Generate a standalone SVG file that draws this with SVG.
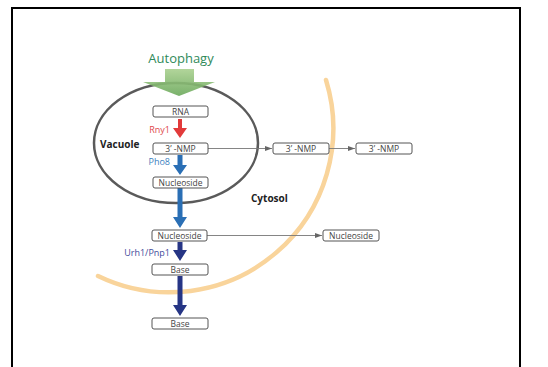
<svg xmlns="http://www.w3.org/2000/svg" width="548" height="367" viewBox="0 0 548 367">
<defs>
<linearGradient id="gAuto" x1="0" y1="0" x2="0" y2="1">
<stop offset="0" stop-color="#a9d08f"/>
<stop offset="1" stop-color="#6aa85a"/>
</linearGradient>
<marker id="ah" markerWidth="8" markerHeight="6" refX="7" refY="3" orient="auto" markerUnits="userSpaceOnUse">
<path d="M0,0.5 L7,3 L0,5.5 Z" fill="#666"/>
</marker>
<style>
.box{fill:#fff;stroke:#555;stroke-width:1}
.bt{font-family:"Open Sans","Liberation Sans",sans-serif;font-size:8.5px;fill:#444;text-anchor:middle}
.lbl{font-family:"Open Sans","Liberation Sans",sans-serif;font-size:9px;text-anchor:end}
.bold{font-family:"Open Sans","Liberation Sans",sans-serif;font-size:10px;font-weight:bold;fill:#222}
.conn{stroke:#777;stroke-width:0.9;fill:none}
</style>
</defs>
<rect x="0" y="0" width="548" height="367" fill="#fff"/>
<rect x="12" y="8" width="508" height="370" fill="none" stroke="#000" stroke-width="2"/>

<!-- cytosol boundary arc -->
<path id="cytosol-membrane" d="M326,80 A164,164 0 0 1 98,276" fill="none" stroke="#f9d49b" stroke-width="4.5" stroke-linecap="round"/>

<!-- vacuole -->
<ellipse id="vacuole-membrane" cx="176" cy="143" rx="82" ry="60" fill="none" stroke="#5a5a5a" stroke-width="2.5"/>

<!-- autophagy arrow -->
<g id="autophagy">
<text x="181" y="63" font-family="'Open Sans','Liberation Sans',sans-serif" font-size="13" fill="#2f8a5a" text-anchor="middle">Autophagy</text>
<path d="M165,69 H194 V82 H215 L179,96 L143,82 H165 Z" fill="url(#gAuto)" opacity="0.9"/>
</g>

<text class="bold" x="100" y="148">Vacuole</text>
<text class="bold" x="251" y="202">Cytosol</text>

<!-- connectors -->
<g id="connectors">
<path class="conn" d="M208,148.5 H272" marker-end="url(#ah)"/>
<path class="conn" d="M329,148.5 H355" marker-end="url(#ah)"/>
<path class="conn" d="M207,235.5 H322" marker-end="url(#ah)"/>
<path d="M178,119 H182 V128 H187 L180,138 L173,128 H178 Z" fill="#e23a3a"/>
<path d="M177.5,155 H182.5 V165 H187 L180,175 L173,165 H177.5 Z" fill="#2a6fb5"/>
<path d="M177.5,188 H182.5 V217 H187 L180,228 L173,217 H177.5 Z" fill="#2a6fb5"/>
<path d="M177.5,242 H182.5 V250 H187 L180,261 L173,250 H177.5 Z" fill="#263585"/>
<path d="M177.5,276 H182.5 V305 H187 L180,316 L173,305 H177.5 Z" fill="#263585"/>
<text class="lbl" x="170" y="133" fill="#e0474c">Rny1</text>
<text class="lbl" x="170" y="165" fill="#3d7fc0">Pho8</text>
<text class="lbl" x="170" y="256" fill="#3f4a9a">Urh1/Pnp1</text>
</g>

<g id="rna"><rect class="box" x="153" y="106" width="55" height="11" rx="2"/><text class="bt" x="180.5" y="114.8">RNA</text></g>
<g id="nmp-vac"><rect class="box" x="153" y="143" width="55" height="11" rx="2"/><text class="bt" x="180.5" y="151.8">3’ -NMP</text></g>
<g id="nmp-cyt"><rect class="box" x="273" y="143" width="56" height="11" rx="2"/><text class="bt" x="301" y="151.8">3’ -NMP</text></g>
<g id="nmp-out"><rect class="box" x="356" y="143" width="56" height="11" rx="2"/><text class="bt" x="384" y="151.8">3’ -NMP</text></g>
<g id="nuc-vac"><rect class="box" x="153" y="177" width="55" height="11" rx="2"/><text class="bt" x="180.5" y="185.8">Nucleoside</text></g>
<g id="nuc-cyt"><rect class="box" x="152" y="230" width="55" height="11" rx="2"/><text class="bt" x="179.5" y="238.8">Nucleoside</text></g>
<g id="nuc-out"><rect class="box" x="323" y="230" width="56" height="11" rx="2"/><text class="bt" x="351" y="238.8">Nucleoside</text></g>
<g id="base-cyt"><rect class="box" x="152" y="264" width="56" height="11" rx="2"/><text class="bt" x="180" y="272.8">Base</text></g>
<g id="base-out"><rect class="box" x="152" y="318" width="56" height="11" rx="2"/><text class="bt" x="180" y="326.8">Base</text></g>
</svg>
